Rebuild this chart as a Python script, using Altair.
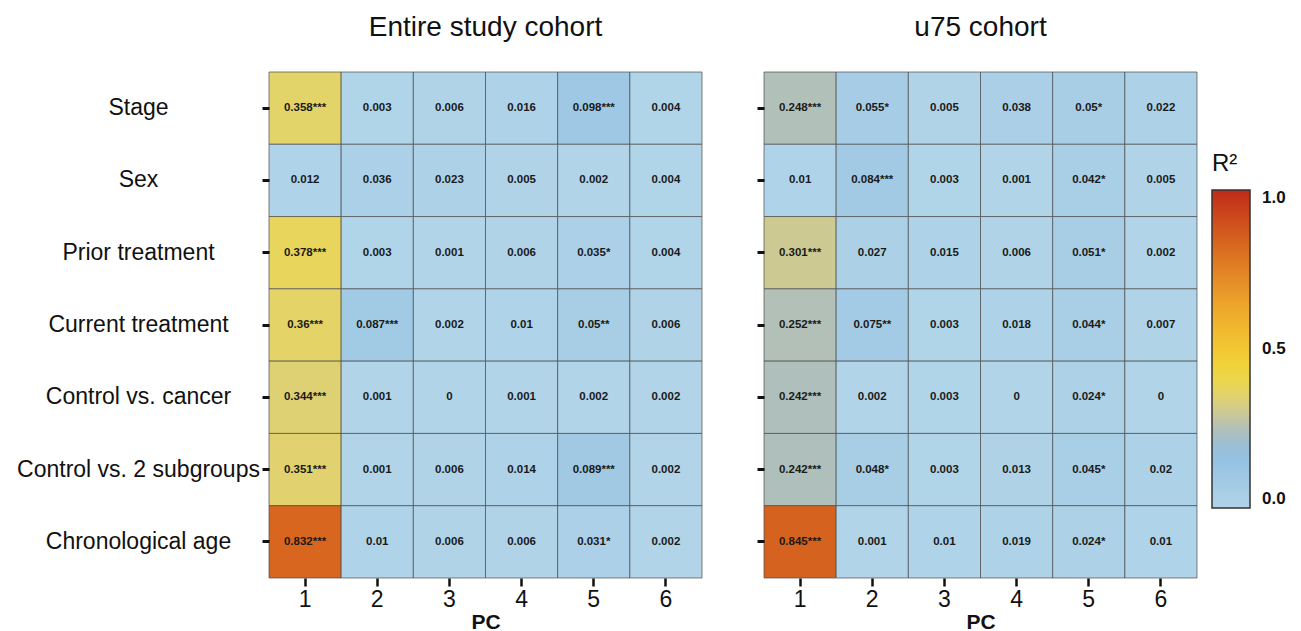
import altair as alt
import pandas as pd

rows = ["Stage", "Sex", "Prior treatment", "Current treatment",
        "Control vs. cancer", "Control vs. 2 subgroups", "Chronological age"]
pcs = [1, 2, 3, 4, 5, 6]

entire_vals = [
    [0.358, 0.003, 0.006, 0.016, 0.098, 0.004],
    [0.012, 0.036, 0.023, 0.005, 0.002, 0.004],
    [0.378, 0.003, 0.001, 0.006, 0.035, 0.004],
    [0.36, 0.087, 0.002, 0.01, 0.05, 0.006],
    [0.344, 0.001, 0, 0.001, 0.002, 0.002],
    [0.351, 0.001, 0.006, 0.014, 0.089, 0.002],
    [0.832, 0.01, 0.006, 0.006, 0.031, 0.002],
]
entire_sig = [
    ["***", "", "", "", "***", ""],
    ["", "", "", "", "", ""],
    ["***", "", "", "", "*", ""],
    ["***", "***", "", "", "**", ""],
    ["***", "", "", "", "", ""],
    ["***", "", "", "", "***", ""],
    ["***", "", "", "", "*", ""],
]
u75_vals = [
    [0.248, 0.055, 0.005, 0.038, 0.05, 0.022],
    [0.01, 0.084, 0.003, 0.001, 0.042, 0.005],
    [0.301, 0.027, 0.015, 0.006, 0.051, 0.002],
    [0.252, 0.075, 0.003, 0.018, 0.044, 0.007],
    [0.242, 0.002, 0.003, 0, 0.024, 0],
    [0.242, 0.048, 0.003, 0.013, 0.045, 0.02],
    [0.845, 0.001, 0.01, 0.019, 0.024, 0.01],
]
u75_sig = [
    ["***", "*", "", "", "*", ""],
    ["", "***", "", "", "*", ""],
    ["***", "", "", "", "*", ""],
    ["***", "**", "", "", "*", ""],
    ["***", "", "", "", "*", ""],
    ["***", "*", "", "", "*", ""],
    ["***", "", "", "", "*", ""],
]

color_stops = [0, 0.1, 0.17, 0.25, 0.3, 0.36, 0.42, 0.5, 0.65, 0.83, 1.0]
color_range = ["#b1d4e8", "#9fc8e4", "#8fbfe2", "#b2c0b8", "#cdc994", "#e4d468",
               "#f0d83f", "#f2c832", "#eca32b", "#d8671f", "#c02a1a"]


def make_df(vals, sig):
    recs = []
    for i, r in enumerate(rows):
        for j, p in enumerate(pcs):
            v = vals[i][j]
            recs.append({"Variable": r, "PC": p, "R2": v,
                         "label": f"{v:g}" + sig[i][j]})
    return pd.DataFrame(recs)


FONT = "Liberation Sans"
scale = alt.Scale(domain=color_stops, range=color_range, interpolate="rgb")
legend = alt.Legend(
    title="R²", orient="none", legendX=943, legendY=80,
    gradientLength=318, gradientThickness=38,
    gradientStrokeColor="#333333", gradientStrokeWidth=1.5,
    values=[0, 0.5, 1], format=".1f",
    labelFont=FONT, labelFontSize=17, labelFontWeight="bold", labelColor="#111111",
    labelOffset=12,
    titleFont=FONT, titleFontSize=24, titleFontWeight="normal", titleColor="#111111",
    titlePadding=14, titleAnchor="start",
)


def panel(vals, sig, title, show_labels):
    df = make_df(vals, sig)
    x = alt.X("PC:O", sort=pcs, scale=alt.Scale(paddingInner=0, paddingOuter=0),
              axis=alt.Axis(title="PC", labelAngle=0, labelFont=FONT, labelFontSize=23,
                            labelColor="#111111", tickColor="#111111", tickWidth=2.5,
                            tickSize=8, labelPadding=2, domain=False,
                            titleFont=FONT, titleFontSize=21, titleFontWeight="bold",
                            titleColor="#111111", titlePadding=0))
    if show_labels:
        yaxis = alt.Axis(title=None, labelFont=FONT, labelFontSize=23, labelColor="#111111",
                         labelAlign="center", labelPadding=124, tickColor="#111111",
                         tickWidth=3, tickSize=7, domain=False, labelLimit=400)
    else:
        yaxis = alt.Axis(title=None, labels=False, tickColor="#111111",
                         tickWidth=3, tickSize=7, domain=False)
    y = alt.Y("Variable:N", sort=rows, scale=alt.Scale(paddingInner=0, paddingOuter=0),
              axis=yaxis)
    rect = alt.Chart(df).mark_rect(stroke="#4a4a4a", strokeWidth=0.7).encode(
        x=x, y=y, color=alt.Color("R2:Q", scale=scale, legend=legend))
    text = alt.Chart(df).mark_text(font=FONT, fontSize=11.5, fontWeight="bold",
                                   color="#1a1a1a").encode(x=x, y=y, text="label:N")
    return alt.layer(rect, text).properties(
        width=433, height=506,
        title=alt.TitleParams(title, font=FONT, fontSize=28, fontWeight="normal",
                              color="#111111", offset=30, anchor="middle"))


left = panel(entire_vals, entire_sig, "Entire study cohort", True)
right = panel(u75_vals, u75_sig, "u75 cohort", False)

chart = alt.hconcat(left, right, spacing=52).properties(
    padding={"left": 8, "top": 5, "right": 0, "bottom": 0}
).configure_view(stroke=None)

chart.save("out.html", embed_options={"renderer": "svg", "actions": False})
